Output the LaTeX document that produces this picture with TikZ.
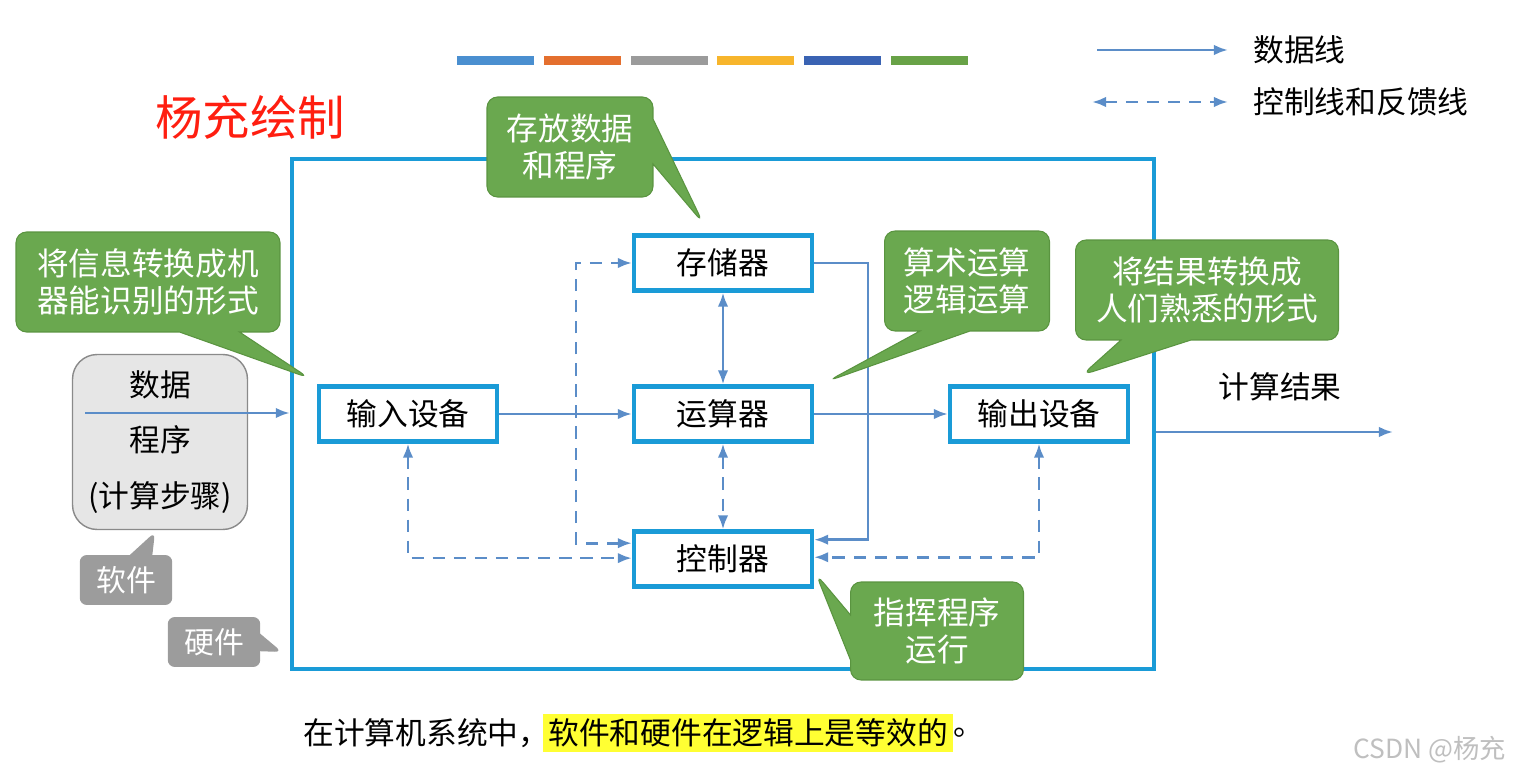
\documentclass[tikz,border=0pt]{standalone}
\usepackage{fontspec}
\setmainfont{Noto Sans CJK SC}
\usetikzlibrary{arrows.meta, positioning, shapes.callouts}
\definecolor{framecyan}{HTML}{1A9BD7}
\definecolor{linkblue}{HTML}{5B8DC8}
\definecolor{notegreen}{HTML}{6AA84F}
\definecolor{noteedge}{HTML}{5A9440}
\definecolor{softgray}{HTML}{E6E6E6}
\definecolor{softedge}{HTML}{8A8A8A}
\definecolor{taggray}{HTML}{9C9C9C}
\definecolor{markyellow}{HTML}{FFFF33}
\definecolor{titlered}{HTML}{FF1E10}
\definecolor{barA}{HTML}{4A8FD0}
\definecolor{barB}{HTML}{E46F2E}
\definecolor{barC}{HTML}{9B9B9B}
\definecolor{barD}{HTML}{F7B52C}
\definecolor{barE}{HTML}{3A63B3}
\definecolor{barF}{HTML}{68A247}

\begin{document}
\begin{tikzpicture}[
    x=0.02cm, y=-0.02cm,
    >={Latex[length=8pt, width=6pt]},
    unit/.style={draw=framecyan, line width=2.4pt, fill=white, minimum width=3.56cm, minimum height=1.1cm, font=\fontsize{17.5}{21}\selectfont},
    datalink/.style={draw=linkblue, line width=1.5pt},
    ctrllink/.style={draw=linkblue, line width=1.5pt, dash pattern=on 7pt off 5pt},
    note/.style={rectangle callout, fill=notegreen, draw=noteedge, line width=0.6pt, rounded corners=6pt, text=white, align=center, inner sep=0pt, minimum height=2cm, font=\fontsize{18}{21}\selectfont},
    tag/.style={rectangle callout, fill=taggray, rounded corners=4pt, text=white, inner sep=0pt, minimum width=1.85cm, minimum height=1cm, font=\fontsize{17}{20}\selectfont},
    plain/.style={inner sep=0pt, font=\fontsize{17.5}{21}\selectfont},
]
\useasboundingbox (0,0) rectangle (1520,776);

% Colour bars
\foreach \c [count=\i from 0] in {barA,barB,barC,barD,barE,barF}
    \fill[\c] (457+\i*86.8,56) rectangle ++(77,9);

% Legend
\coordinate (lgA1) at (1097,50);
\coordinate (lgA2) at (1228,50);
\coordinate (lgB1) at (1092,102);
\coordinate (lgB2) at (1228,102);
\draw[datalink, ->] (lgA1) -- (lgA2);
\draw[ctrllink, <->] (lgB1) -- (lgB2);
\node[plain, anchor=west] (lgdata) at (1253,50) {数据线};
\node[plain, anchor=west] (lgctrl) at (1253,102) {控制线和反馈线};

% Title
\node[font=\fontsize{27}{30}\selectfont, text=titlered] (author) at (250,117) {杨充绘制};

% Host frame
\node[draw=framecyan, line width=2.6pt, minimum width=17.24cm, minimum height=10.2cm] (host) at (723,414) {};

% Units
\node[unit] (in) at (408,414) {输入设备};
\node[unit] (mem) at (723,263) {存储器};
\node[unit] (alu) at (723,414) {运算器};
\node[unit] (ctrl) at (723,559) {控制器};
\node[unit] (out) at (1039,414) {输出设备};

% Data lines
\draw[datalink, ->] (in) -- (alu);
\draw[datalink, ->] (alu) -- (out);
\draw[datalink, <->] (mem) -- (alu);
\coordinate (memturn) at (868,263);
\draw[datalink, ->] (mem.east) -- (memturn) |- ([yshift=11pt]ctrl.east);

% Control and feedback lines
\draw[ctrllink, <->] (alu) -- (ctrl);
\coordinate (ctrlturn) at (576,263);
\draw[ctrllink, <->] ([yshift=9pt]ctrl.west) -| (ctrlturn) -- (mem.west);
\draw[ctrllink, <->] (in.south) |- ([yshift=0.5pt]ctrl.west);
\draw[ctrllink, <->] (out.south) |- ([yshift=1pt]ctrl.east);

% Outside: software and result
\node[draw=softedge, line width=0.8pt, fill=softgray, rounded corners=14pt, minimum width=3.5cm, minimum height=3.5cm, align=center, font=\fontsize{17.5}{31.5}\selectfont] (soft) at (160,442) {数据\\程序\\(计算步骤)};
\coordinate (datain) at (85,413);
\draw[datalink, ->] (datain) -- (datain -| host.west);
\coordinate (resultend) at (1393,432);
\draw[datalink, ->] (resultend -| host.east) -- (resultend);
\node[plain] (result) at (1280,387) {计算结果};

% Callouts
\coordinate (tipmem) at (703,223);
\coordinate (tipin) at (309,378);
\coordinate (tipalu) at (828,381);
\coordinate (tipout) at (1082,375);
\coordinate (tipctrl) at (816,574);
\coordinate (tipsoft) at (155,532);
\coordinate (tiphard) at (282,652);
\node[note, minimum width=3.32cm, callout absolute pointer=(tipmem), callout pointer width=0.9cm] (memnote) at (570,147) {存放数据\\和程序};
\node[note, minimum width=5.28cm, callout absolute pointer=(tipin), callout pointer width=1.2cm] (innote) at (148,282) {将信息转换成机\\器能识别的形式};
\node[note, minimum width=3.3cm, callout absolute pointer=(tipalu), callout pointer width=1.0cm] (alunote) at (967,281) {算术运算\\逻辑运算};
\node[note, minimum width=5.26cm, callout absolute pointer=(tipout), callout pointer width=1.4cm] (outnote) at (1207,290) {将结果转换成\\人们熟悉的形式};
\node[note, minimum width=3.46cm, minimum height=1.96cm, callout absolute pointer=(tipctrl), callout pointer width=0.9cm] (ctrlnote) at (937,631) {指挥程序\\运行};
\node[tag, callout absolute pointer=(tipsoft), callout pointer width=0.45cm] (softtag) at (126,580) {软件};
\node[tag, callout absolute pointer=(tiphard), callout pointer width=0.35cm] (hardtag) at (214,642) {硬件};

% Bottom sentence
\node[plain, anchor=west] (sentA) at (303,733) {在计算机系统中，};
\node[plain, fill=markyellow, inner xsep=3pt, inner ysep=2.5pt, right=-4pt of sentA] (sentB) {软件和硬件在逻辑上是等效的};
\node[plain, right=0pt of sentB] (sentC) {。};

% Watermark
\node[font=\fontsize{15}{18}\selectfont, text=gray!50] (mark) at (1430,750) {CSDN @杨充};

\end{tikzpicture}
\end{document}
